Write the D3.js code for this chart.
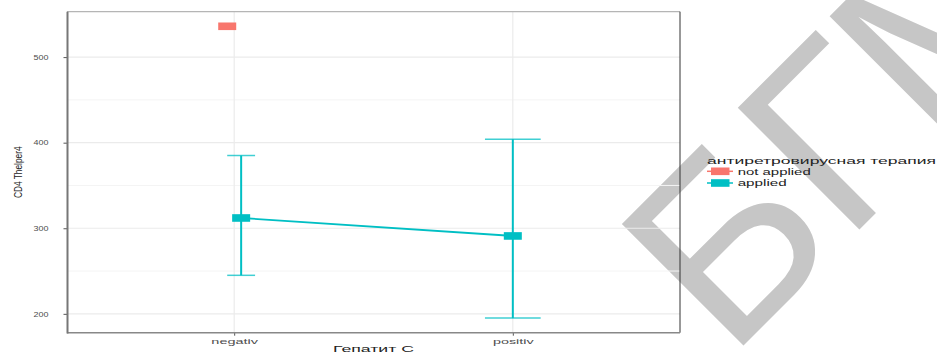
<!DOCTYPE html>
<html>
<head>
<meta charset="utf-8">
<script src="https://cdn.jsdelivr.net/npm/d3@7"></script>
<style>
  html, body { margin: 0; padding: 0; background: #fff; }
  svg { display: block; font-family: "Liberation Sans", Arial, sans-serif; }
</style>
</head>
<body>
<svg id="chart" width="937" height="352"></svg>
<script>
// Hepatitis C status on the x axis
const categories = ["negativ", "positiv"];
// Antiretroviral therapy groups
const groups = ["not applied", "applied"];
const groupColors = ["#F8766D", "#00BFC4"];

// Mean CD4 T-helper counts per category, one array per group (null = no data)
const meanNotApplied = [536, null];
const meanApplied = [312, 291];
// Error bar bounds for the "applied" group
const lowerApplied = [245, 195];
const upperApplied = [385, 404];

const yTicks = [200, 300, 400, 500];
const yMinorTicks = [250, 350, 450];

const svg = d3.select("#chart");

const panel = { left: 67, right: 680, top: 11.7, bottom: 332.7 };

// Watermark behind the plot
svg.append("text")
  .attr("transform", "translate(729,360) rotate(-45)")
  .attr("font-size", 250)
  .attr("fill", "#c6c6c6")
  .text("БГМУ");

const x = d3.scalePoint().domain(categories).range([panel.left, panel.right]).padding(0.6);
const step = x.step();

// y domain: data extent expanded by 5% on each side
const allVals = [...meanNotApplied, ...lowerApplied, ...upperApplied].filter(v => v != null);
const lo = d3.min(allVals), hi = d3.max(allVals);
const pad = (hi - lo) * 0.05;
const y = d3.scaleLinear().domain([lo - pad, hi + pad]).range([panel.bottom, panel.top]);

// grid
const grid = svg.append("g");
grid.selectAll(".minor").data(yMinorTicks).join("line")
  .attr("x1", panel.left).attr("x2", panel.right)
  .attr("y1", d => y(d)).attr("y2", d => y(d))
  .attr("stroke", "#f4f4f4").attr("stroke-width", 1);
grid.selectAll(".major").data(yTicks).join("line")
  .attr("x1", panel.left).attr("x2", panel.right)
  .attr("y1", d => y(d)).attr("y2", d => y(d))
  .attr("stroke", "#ebebeb").attr("stroke-width", 1.2);
grid.selectAll(".vmajor").data(categories).join("line")
  .attr("x1", d => x(d)).attr("x2", d => x(d))
  .attr("y1", panel.top).attr("y2", panel.bottom)
  .attr("stroke", "#ebebeb").attr("stroke-width", 1.2);

// panel borders
svg.append("line").attr("x1", panel.left).attr("x2", panel.right).attr("y1", panel.top).attr("y2", panel.top)
  .attr("stroke", "#b5b5b5").attr("stroke-width", 1.2);
svg.append("line").attr("x1", panel.right).attr("x2", panel.right).attr("y1", panel.top).attr("y2", panel.bottom)
  .attr("stroke", "#333").attr("stroke-width", 1);

// axes
const yAxis = d3.axisLeft(y).tickValues(yTicks).tickSize(3.5).tickPadding(15);
const gy = svg.append("g").attr("transform", `translate(${panel.left},0)`).call(yAxis);
gy.select(".domain").remove();
gy.selectAll(".tick line").attr("stroke", "#555");
gy.selectAll(".tick text")
  .attr("font-size", 6.3).attr("fill", "#4d4d4d")
  .attr("textLength", 15).attr("lengthAdjust", "spacingAndGlyphs")
  .attr("dy", "0.36em");

const xAxis = d3.axisBottom(x).tickSize(3).tickPadding(2);
const gx = svg.append("g").attr("transform", `translate(0,${panel.bottom})`).call(xAxis);
gx.select(".domain").remove();
gx.selectAll(".tick line").attr("stroke", "#555");
const xLabelWidths = { negativ: 46.7, positiv: 40.7 };
gx.selectAll(".tick text")
  .attr("font-size", 7.5).attr("fill", "#4d4d4d")
  .attr("dy", 0).attr("y", 11.3)
  .attr("textLength", d => xLabelWidths[d]).attr("lengthAdjust", "spacingAndGlyphs");

svg.append("line").attr("x1", panel.left).attr("x2", panel.right).attr("y1", panel.bottom).attr("y2", panel.bottom)
  .attr("stroke", "#888").attr("stroke-width", 1.6);
svg.append("line").attr("x1", panel.left + 0.5).attr("x2", panel.left + 0.5).attr("y1", panel.top).attr("y2", panel.bottom + 0.8)
  .attr("stroke", "#777").attr("stroke-width", 2);

// axis titles
svg.append("text").attr("x", (panel.left + panel.right) / 2).attr("y", 351.5)
  .attr("text-anchor", "middle").attr("font-size", 9.5).attr("fill", "#222")
  .attr("textLength", 81).attr("lengthAdjust", "spacingAndGlyphs")
  .text("Гепатит C");
svg.append("text")
  .attr("transform", `translate(21.5,${(panel.top + panel.bottom) / 2}) rotate(-90)`)
  .attr("text-anchor", "middle").attr("font-size", 11.5).attr("fill", "#222")
  .attr("textLength", 51.6).attr("lengthAdjust", "spacingAndGlyphs")
  .text("CD4 Thelper4");

// marks, dodged within each category
const dodge = 0.025 * step;
const series = [
  { name: groups[0], color: groupColors[0], mean: meanNotApplied, lower: null, upper: null },
  { name: groups[1], color: groupColors[1], mean: meanApplied, lower: lowerApplied, upper: upperApplied }
];
function presentCount(i) { return series.filter(s => s.mean[i] != null).length; }
function xPos(si, i) {
  if (presentCount(i) < 2) return x(categories[i]);
  return x(categories[i]) + (si === 0 ? -dodge : dodge);
}

const marks = svg.append("g");
series.forEach((s, si) => {
  const pts = s.mean.map((m, i) => ({ i, m })).filter(d => d.m != null);
  // connecting line
  if (pts.length > 1) {
    marks.append("path")
      .attr("d", d3.line().x(d => xPos(si, d.i)).y(d => y(d.m))(pts))
      .attr("fill", "none").attr("stroke", s.color).attr("stroke-width", 1.8);
  }
  // error bars
  if (s.lower) {
    pts.forEach(d => {
      const cx = xPos(si, d.i);
      const half = (presentCount(d.i) < 2 ? 0.2 : 0.1) * step / 2;
      marks.append("line").attr("x1", cx).attr("x2", cx)
        .attr("y1", y(s.upper[d.i])).attr("y2", y(s.lower[d.i]))
        .attr("stroke", s.color).attr("stroke-width", 2);
      [s.upper[d.i], s.lower[d.i]].forEach(v => {
        marks.append("line").attr("x1", cx - half).attr("x2", cx + half)
          .attr("y1", y(v)).attr("y2", y(v))
          .attr("stroke", s.color).attr("stroke-opacity", 0.75).attr("stroke-width", 1.5);
      });
    });
  }
  // points
  pts.forEach(d => {
    marks.append("rect")
      .attr("x", xPos(si, d.i) - 9).attr("y", y(d.m) - 3.8)
      .attr("width", 18).attr("height", 7.6)
      .attr("fill", s.color);
  });
});

// legend
const legend = svg.append("g");
legend.append("text").attr("x", 707).attr("y", 163.5)
  .attr("font-size", 9.5).attr("fill", "#222")
  .attr("textLength", 229).attr("lengthAdjust", "spacingAndGlyphs")
  .text("антиретровирусная терапия");
const legendWidths = [73, 49];
groups.forEach((g, gi) => {
  const cy = 171.3 + gi * 11.7;
  legend.append("line").attr("x1", 707).attr("x2", 733).attr("y1", cy).attr("y2", cy)
    .attr("stroke", groupColors[gi]).attr("stroke-width", 1.5);
  legend.append("rect").attr("x", 711).attr("y", cy - 3.8).attr("width", 18.5).attr("height", 7.6)
    .attr("fill", groupColors[gi]);
  legend.append("text").attr("x", 737.7).attr("y", cy + 3.4)
    .attr("font-size", 8.5).attr("fill", "#222")
    .attr("textLength", legendWidths[gi]).attr("lengthAdjust", "spacingAndGlyphs")
    .text(g);
});
</script>
</body>
</html>
